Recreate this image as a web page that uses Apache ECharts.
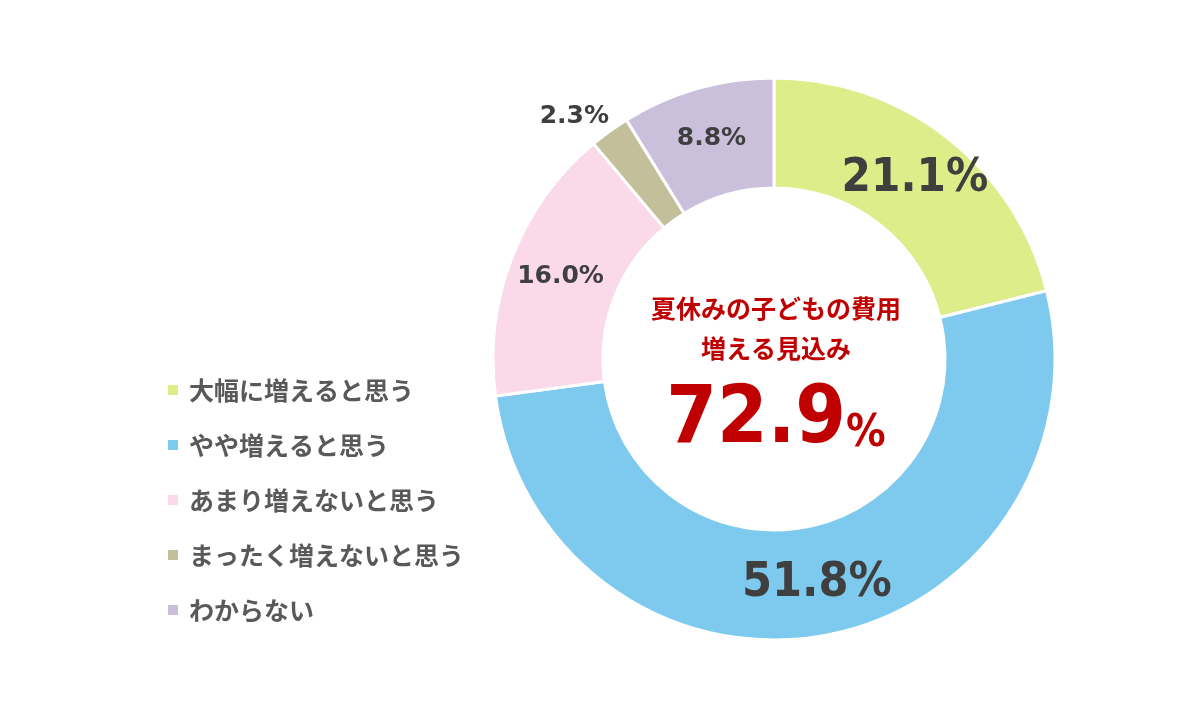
<!DOCTYPE html>
<html><head><meta charset="utf-8">
<script src="https://cdn.jsdelivr.net/npm/echarts@6/dist/echarts.min.js"></script>
<style>html,body{margin:0;padding:0;background:#fff}#c{width:1200px;height:720px}</style>
</head><body><div id="c"></div>
<script>
const categories = ['大幅に増えると思う','やや増えると思う','あまり増えないと思う','まったく増えないと思う','わからない'];
const values = [21.1, 51.8, 16.0, 2.3, 8.8];
const colors = ['#DCED8A','#7DCAEE','#FAD9E8','#C3BF9A','#CBC0DC'];
const labelSizes = [47, 48, 25, 25, 25];
const centerLine1 = '夏休みの子どもの費用';
const centerLine2 = '増える見込み';
const centerValue = '72.9';

const bigFont = '"DejaVu Sans Condensed", "DejaVu Sans", sans-serif';
const smallFont = '"DejaVu Sans", Verdana, sans-serif';

const chart = echarts.init(document.getElementById('c'));
const data = categories.map((name, i) => {
  const item = {
    name, value: values[i],
    itemStyle: { color: colors[i] },
    label: { fontSize: labelSizes[i], fontFamily: labelSizes[i] > 30 ? bigFont : smallFont }
  };
  if (values[i] < 5) {
    item.label = { position: 'outside', fontSize: labelSizes[i], fontFamily: smallFont, distanceToLabelLine: 0 };
    item.labelLine = { show: false, length: 18, length2: -10 };
  }
  return item;
});
chart.setOption({
  animation: false,
  legend: {
    orient: 'vertical', left: 161, top: 370,
    icon: 'rect', itemWidth: 12, itemHeight: 12, itemGap: 25,
    textStyle: { fontSize: 25, fontWeight: 'bold', color: '#595959', lineHeight: 30,
      padding: [0, 0, 0, 5],
      fontFamily: '"Noto Sans CJK JP", sans-serif' },
    data: categories
  },
  title: {
    text: '{a|' + centerLine1 + '}\n{a|' + centerLine2 + '}\n{b|' + centerValue + '}{c|%}',
    left: 771, top: 283, textAlign: 'center',
    textStyle: {
      rich: {
        a: { fontSize: 25, fontWeight: 'bold', color: '#C00000', lineHeight: 40,
          fontFamily: '"Noto Sans CJK JP", sans-serif' },
        b: { fontSize: 81, fontWeight: 'bold', color: '#C00000', lineHeight: 93,
          fontFamily: bigFont, verticalAlign: 'bottom' },
        c: { fontSize: 44, fontWeight: 'bold', color: '#C00000', lineHeight: 93,
          fontFamily: bigFont, verticalAlign: 'bottom', padding: [0, 0, 4, 0] }
      }
    }
  },
  series: [{
    type: 'pie',
    center: [774, 359],
    radius: [171, 281],
    startAngle: 90,
    clockwise: true,
    avoidLabelOverlap: false,
    itemStyle: { borderColor: '#fff', borderWidth: 3 },
    label: {
      show: true, position: 'inside',
      formatter: p => p.value.toFixed(1) + '%',
      color: '#3F3F3F', fontWeight: 'bold'
    },
    emphasis: { disabled: true },
    data
  }]
});
</script></body></html>
